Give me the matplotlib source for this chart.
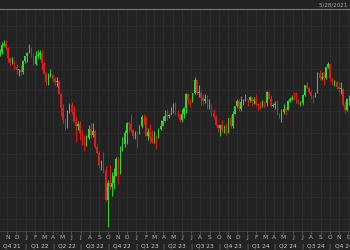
import matplotlib
matplotlib.use("Agg")
import matplotlib.pyplot as plt
import matplotlib.dates as mdates
import matplotlib.transforms as mtransforms
import pandas as pd

# weekly candles, GBP/USD style, week starting Monday 2021-10-04
first_open = 1.3570
closes = [
    1.3600, 1.3740, 1.3750, 1.3680, 1.3500, 1.3410, 1.3440, 1.3330, 1.3270, 1.3270, 1.3240, 1.3435, 1.3530,
    1.3590, 1.3670, 1.3550, 1.3390, 1.3530, 1.3560, 1.3590, 1.3410, 1.3200, 1.3040, 1.3180, 1.3185, 1.3110,
    1.3040, 1.3060, 1.2830, 1.2570, 1.2340, 1.2260, 1.2490, 1.2620, 1.2490, 1.2310, 1.2230, 1.2270, 1.2100,
    1.2030, 1.1860, 1.2010, 1.2170, 1.2070, 1.2130, 1.1840, 1.1730, 1.1510, 1.1580, 1.1410, 1.0860, 1.1160,
    1.1090, 1.1170, 1.1300, 1.1620, 1.1380, 1.1780, 1.1890, 1.2090, 1.2280, 1.2260, 1.2150, 1.2050, 1.2100,
    1.2090, 1.2230, 1.2400, 1.2390, 1.2050, 1.2120, 1.2030, 1.1940, 1.2040, 1.2030, 1.2170, 1.2230, 1.2330,
    1.2420, 1.2410, 1.2440, 1.2570, 1.2630, 1.2450, 1.2440, 1.2340, 1.2450, 1.2570, 1.2820, 1.2710, 1.2700,
    1.2840, 1.3090, 1.2850, 1.2850, 1.2750, 1.2700, 1.2730, 1.2580, 1.2590, 1.2470, 1.2390, 1.2240, 1.2200,
    1.2240, 1.2160, 1.2160, 1.2130, 1.2380, 1.2220, 1.2460, 1.2600, 1.2700, 1.2550, 1.2680, 1.2710, 1.2730,
    1.2720, 1.2760, 1.2700, 1.2700, 1.2630, 1.2620, 1.2600, 1.2670, 1.2650, 1.2860, 1.2730, 1.2600, 1.2620,
    1.2630, 1.2450, 1.2370, 1.2490, 1.2550, 1.2520, 1.2700, 1.2740, 1.2740, 1.2730, 1.2680, 1.2650, 1.2650,
    1.2810, 1.2990, 1.2930, 1.2860, 1.2790, 1.2760, 1.2850, 1.3210, 1.3120, 1.3130, 1.3120, 1.3320, 1.3380,
    1.3120, 1.3050, 1.3050, 1.2960, 1.2920, 1.2920, 1.2620, 1.2530, 1.2730, 1.2750,
]
highs = [
    1.3670, 1.3790, 1.3835, 1.3830, 1.3700, 1.3515, 1.3510, 1.3440, 1.3375, 1.3285, 1.3370, 1.3460, 1.3530,
    1.3600, 1.3750, 1.3700, 1.3580, 1.3630, 1.3640, 1.3645, 1.3640, 1.3440, 1.3240, 1.3210, 1.3300, 1.3200,
    1.3150, 1.3150, 1.3090, 1.2840, 1.2640, 1.2380, 1.2530, 1.2660, 1.2670, 1.2600, 1.2410, 1.2320, 1.2330,
    1.2160, 1.2060, 1.2060, 1.2240, 1.2290, 1.2280, 1.2160, 1.1900, 1.1770, 1.1590, 1.1740, 1.1480, 1.1230,
    1.1500, 1.1380, 1.1440, 1.1650, 1.1650, 1.1860, 1.2030, 1.2150, 1.2310, 1.2320, 1.2450, 1.2170, 1.2130,
    1.2130, 1.2250, 1.2440, 1.2450, 1.2420, 1.2190, 1.2270, 1.2150, 1.2140, 1.2070, 1.2200, 1.2340, 1.2420,
    1.2520, 1.2540, 1.2470, 1.2580, 1.2660, 1.2680, 1.2530, 1.2450, 1.2540, 1.2580, 1.2850, 1.2850, 1.2740,
    1.2850, 1.3140, 1.3100, 1.2990, 1.2890, 1.2820, 1.2820, 1.2800, 1.2740, 1.2630, 1.2550, 1.2430, 1.2270,
    1.2250, 1.2340, 1.2240, 1.2290, 1.2380, 1.2430, 1.2500, 1.2610, 1.2730, 1.2730, 1.2790, 1.2740, 1.2830,
    1.2740, 1.2790, 1.2770, 1.2770, 1.2820, 1.2640, 1.2690, 1.2710, 1.2700, 1.2890, 1.2870, 1.2800, 1.2660,
    1.2690, 1.2710, 1.2470, 1.2540, 1.2630, 1.2590, 1.2710, 1.2760, 1.2810, 1.2860, 1.2860, 1.2740, 1.2700,
    1.2820, 1.2990, 1.3040, 1.2950, 1.2890, 1.2800, 1.2870, 1.3230, 1.3270, 1.3240, 1.3230, 1.3330, 1.3430,
    1.3390, 1.3130, 1.3080, 1.3060, 1.3050, 1.3050, 1.2940, 1.2700, 1.2750, 1.2810,
]
lows = [
    1.3540, 1.3570, 1.3720, 1.3650, 1.3425, 1.3355, 1.3385, 1.3280, 1.3195, 1.3160, 1.3175, 1.3190, 1.3400,
    1.3430, 1.3580, 1.3520, 1.3360, 1.3360, 1.3490, 1.3470, 1.3270, 1.3190, 1.3000, 1.3000, 1.3150, 1.3050,
    1.3000, 1.2970, 1.2820, 1.2410, 1.2280, 1.2160, 1.2200, 1.2470, 1.2460, 1.2310, 1.1930, 1.2160, 1.1975,
    1.1880, 1.1760, 1.1850, 1.1990, 1.2000, 1.2030, 1.1820, 1.1720, 1.1440, 1.1410, 1.1350, 1.0840, 1.0350,
    1.1060, 1.0925, 1.1060, 1.1290, 1.1150, 1.1340, 1.1760, 1.1830, 1.1900, 1.2110, 1.2120, 1.1990, 1.1990,
    1.1840, 1.2080, 1.2200, 1.2260, 1.2050, 1.1960, 1.1920, 1.1920, 1.1920, 1.1800, 1.2010, 1.2160, 1.2220,
    1.2330, 1.2350, 1.2370, 1.2430, 1.2480, 1.2440, 1.2390, 1.2300, 1.2310, 1.2370, 1.2480, 1.2640, 1.2590,
    1.2680, 1.2820, 1.2810, 1.2770, 1.2620, 1.2620, 1.2660, 1.2550, 1.2550, 1.2420, 1.2380, 1.2230, 1.2110,
    1.2040, 1.2120, 1.2090, 1.2070, 1.2090, 1.2190, 1.2190, 1.2450, 1.2590, 1.2500, 1.2500, 1.2620, 1.2700,
    1.2610, 1.2670, 1.2600, 1.2640, 1.2610, 1.2520, 1.2540, 1.2580, 1.2580, 1.2600, 1.2730, 1.2590, 1.2590,
    1.2540, 1.2440, 1.2370, 1.2300, 1.2460, 1.2440, 1.2520, 1.2680, 1.2710, 1.2720, 1.2660, 1.2640, 1.2610,
    1.2620, 1.2780, 1.2910, 1.2840, 1.2740, 1.2660, 1.2760, 1.2840, 1.3090, 1.3090, 1.3000, 1.3100, 1.3310,
    1.3070, 1.3000, 1.2970, 1.2910, 1.2840, 1.2830, 1.2600, 1.2480, 1.2510, 1.2620,
]
opens = [first_open] + closes[:-1]
weeks = pd.date_range("2021-10-04", periods=len(closes), freq="W-MON")

month_letters = list("JFMAMJJASOND")
date_range_label = "5/28/2021 - 12/6/2024"

bg = "#232323"
up_col = "#2fd82f"
down_col = "#e01b1b"
grid_col = "#2f2f2f"
text_col = "#cccccc"

fig = plt.figure(figsize=(3.5, 2.5), dpi=100, facecolor=bg)
ax = fig.add_axes([0, 19 / 250, 1, 222 / 250], facecolor=bg)

x = mdates.date2num(weeks) + 2.5
for xi, o, h, l, c in zip(x, opens, highs, lows, closes):
    col = up_col if c >= o else down_col
    ax.vlines(xi, l, h, color=col, lw=0.7)
    ax.bar(xi, max(abs(c - o), 0.0015), bottom=min(o, c), width=4.5, color=col, lw=0)

x0 = mdates.date2num(pd.Timestamp("2021-10-08"))
x1 = mdates.date2num(pd.Timestamp("2024-12-07"))
ax.set_xlim(x0, x1)
ax.set_ylim(1.0274, 1.4408)

months = pd.date_range("2021-11-01", "2024-12-01", freq="MS")
ax.set_xticks(mdates.date2num(months))
ax.set_xticklabels([month_letters[m.month - 1] for m in months], fontsize=4.2, color="#b4b4b4")
ax.tick_params(axis="x", length=2, width=0.5, color="#666666", pad=1)
ax.set_yticks([1.05, 1.09, 1.13, 1.17, 1.21, 1.25, 1.29, 1.33, 1.37, 1.41])
ax.tick_params(axis="y", left=False, labelleft=False)
ax.grid(True, color=grid_col, lw=0.6)
ax.set_axisbelow(True)

for s in ["left", "right"]:
    ax.spines[s].set_visible(False)
ax.spines["top"].set_color("#7a7a7a")
ax.spines["top"].set_linewidth(0.8)
ax.spines["bottom"].set_color("#444444")
ax.spines["bottom"].set_linewidth(0.6)

# quarter labels under month letters
trans = mtransforms.blended_transform_factory(ax.transData, ax.transAxes)
quarters = pd.date_range("2021-10-01", "2024-10-01", freq="QS")
for q in quarters:
    qend = q + pd.offsets.QuarterBegin(startingMonth=1)
    mid = (mdates.date2num(q) + mdates.date2num(qend)) / 2
    ax.text(mid, -0.068, f"Q{(q.month - 1) // 3 + 1} {q.year % 100}", transform=trans,
            ha="center", va="center", fontsize=4.2, color=text_col, clip_on=False)
    if q > quarters[0]:
        ax.text(mdates.date2num(q), -0.068, "|", transform=trans, ha="center", va="center",
                fontsize=4.2, color="#888888", clip_on=False)

fig.text(319 / 350, 1 - 5 / 250, date_range_label, fontsize=4, color="#aaaaaa", va="center", ha="left")

fig.savefig("out.png", dpi=100, facecolor=bg)
